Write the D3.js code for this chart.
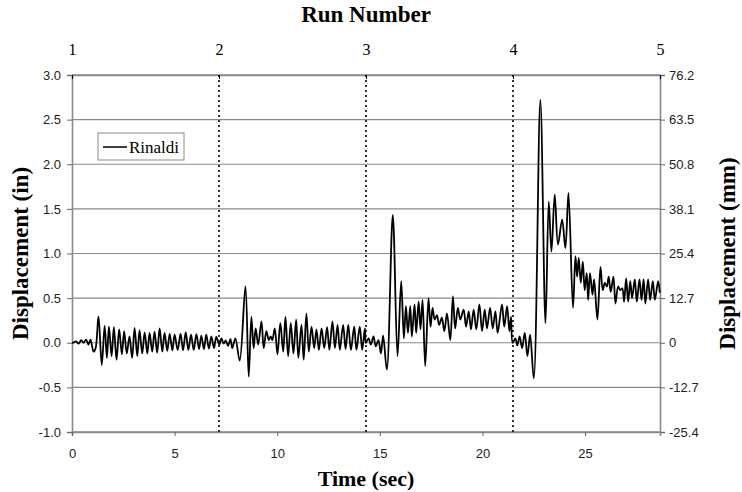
<!DOCTYPE html>
<html>
<head>
<meta charset="utf-8">
<script src="https://cdn.jsdelivr.net/npm/d3@7"></script>
<style>
	body { margin: 0; background: #fff; }
	svg { display: block; }
	.tickTxt { font-family: Arial, "Liberation Sans", sans-serif; font-size: 13px; fill: #222; }
	.title { font-family: "Times New Roman", "Liberation Serif", serif; font-weight: bold; font-size: 22px; fill: #000; }
</style>
</head>
<body>
<div id="chart"></div>
<script>
"use strict";

// displacement record, peaks and troughs (time in sec, disp in inches)
const run1Time = [0, 0.04, 0.2, 0.32, 0.45, 0.56, 0.69, 0.8, 0.9, 1.05, 1.15, 1.29, 1.45, 1.59, 1.7, 1.8, 1.93, 2.04, 2.17, 2.3, 2.43, 2.54, 2.67, 2.8, 2.93, 3.05, 3.18, 3.29, 3.42, 3.54, 3.67, 3.78, 3.91, 4.02, 4.15, 4.27, 4.4, 4.51, 4.64, 4.76, 4.89, 5.0, 5.15, 5.29, 5.41, 5.54, 5.67, 5.8, 5.93, 6.06, 6.19, 6.3, 6.43, 6.54, 6.67, 6.79, 6.92, 7.03];
const run1Disp = [0, 0, 0.015, -0.01, 0.03, 0, 0.035, -0.02, 0.035, -0.1, -0.06, 0.295, -0.25, 0.19, -0.17, 0.18, -0.15, 0.175, -0.19, 0.15, -0.13, 0.13, -0.12, 0.07, -0.17, 0.165, -0.15, 0.14, -0.12, 0.115, -0.12, 0.11, -0.1, 0.125, -0.11, 0.16, -0.1, 0.11, -0.09, 0.1, -0.085, 0.09, -0.08, 0.1, -0.085, 0.115, -0.08, 0.09, -0.08, 0.095, -0.07, 0.08, -0.07, 0.09, -0.065, 0.07, -0.06, 0.065];

const run2Time = [7.18, 7.28, 7.39, 7.49, 7.6, 7.72, 7.81, 7.96, 8.17, 8.45, 8.61, 8.74, 8.85, 8.95, 9.07, 9.23, 9.34, 9.47, 9.59, 9.68, 9.76, 9.88, 10.01, 10.15, 10.29, 10.4, 10.53, 10.66, 10.79, 10.92, 11.03, 11.18, 11.29, 11.42, 11.54, 11.67, 11.8, 11.91, 12.03, 12.16, 12.29, 12.43, 12.54, 12.69, 12.81, 12.94, 13.05, 13.21, 13.33, 13.46, 13.59, 13.75, 13.86, 14.02, 14.14, 14.27];
const run2Disp = [-0.02, 0.05, -0.01, 0.025, -0.035, 0.04, -0.06, 0.05, -0.2, 0.63, -0.38, 0.29, -0.06, 0.16, -0.02, 0.24, -0.06, 0.13, 0.03, 0.07, 0.03, 0.16, -0.13, 0.22, -0.1, 0.29, -0.15, 0.22, -0.12, 0.26, -0.17, 0.2, -0.19, 0.33, -0.1, 0.18, -0.06, 0.15, -0.08, 0.16, -0.06, 0.175, -0.08, 0.24, -0.06, 0.2, -0.08, 0.2, -0.07, 0.2, -0.08, 0.18, -0.08, 0.18, -0.08, 0.16];

const run3Time = [14.32, 14.45, 14.56, 14.69, 14.8, 14.93, 15.05, 15.16, 15.34, 15.63, 15.86, 16.04, 16.17, 16.27, 16.37, 16.48, 16.56, 16.69, 16.77, 16.89, 16.98, 17.08, 17.21, 17.37, 17.47, 17.57, 17.67, 17.78, 17.89, 18.02, 18.14, 18.27, 18.43, 18.56, 18.67, 18.8, 18.92, 19.08, 19.2, 19.33, 19.44, 19.57, 19.7, 19.85, 19.98, 20.11, 20.22, 20.37, 20.5, 20.63, 20.74, 20.95, 21.06, 21.2, 21.31, 21.39, 21.47];
const run3Disp = [0, 0.05, -0.02, 0.07, -0.04, 0.03, -0.12, 0.08, -0.3, 1.43, -0.15, 0.69, 0.05, 0.41, 0.11, 0.41, 0.07, 0.43, 0.11, 0.46, 0.15, 0.48, -0.26, 0.5, 0.18, 0.39, 0.26, 0.31, 0.2, 0.28, 0.13, 0.33, 0.03, 0.52, 0.16, 0.39, 0.26, 0.37, 0.18, 0.35, 0.15, 0.37, 0.15, 0.43, 0.13, 0.37, 0.16, 0.39, 0.16, 0.35, 0.11, 0.43, 0.18, 0.41, 0.13, 0.29, 0];

const run4Time = [21.6, 21.7, 21.81, 21.93, 22.06, 22.19, 22.32, 22.5, 22.82, 23.07, 23.23, 23.36, 23.52, 23.68, 23.88, 24.04, 24.19, 24.41, 24.53, 24.61, 24.69, 24.79, 24.89, 24.98, 25.08, 25.15, 25.24, 25.36, 25.44, 25.6, 25.75, 25.86, 25.96, 26.06, 26.15, 26.25, 26.38, 26.48, 26.61, 26.71, 26.81, 26.9, 27.0, 27.1, 27.2, 27.29, 27.42, 27.52, 27.65, 27.75, 27.85, 27.94, 28.07, 28.17, 28.3, 28.4, 28.56, 28.64];
const run4Disp = [0.05, -0.03, 0.07, -0.06, 0.11, -0.15, 0.09, -0.4, 2.72, 0.22, 1.58, 1.02, 1.66, 1.1, 1.38, 1.06, 1.68, 0.39, 0.97, 0.74, 0.95, 0.67, 0.91, 0.59, 0.78, 0.48, 0.78, 0.54, 0.71, 0.26, 0.85, 0.59, 0.67, 0.63, 0.74, 0.57, 0.74, 0.44, 0.63, 0.59, 0.61, 0.46, 0.72, 0.46, 0.69, 0.5, 0.71, 0.46, 0.71, 0.48, 0.71, 0.44, 0.71, 0.48, 0.69, 0.48, 0.69, 0.56];

// axis ticks
const timeTicks = [0, 5, 10, 15, 20, 25];
const inTicks = [-1.0, -0.5, 0.0, 0.5, 1.0, 1.5, 2.0, 2.5, 3.0];
const mmLabels = ["-25.4", "-12.7", "0", "12.7", "25.4", "38.1", "50.8", "63.5", "76.2"];
const runNumbers = [1, 2, 3, 4, 5];
const runBreaks = [2, 3, 4];
const seriesName = "Rinaldi";

const W = 742, H = 492;
const m = { left: 72, right: 82, top: 75, bottom: 60 };

const svg = d3.select("#chart").append("svg")
	.attr("width", W)
	.attr("height", H);

const x = d3.scaleLinear().domain([0, 28.65]).range([m.left, W - m.right]);
const y = d3.scaleLinear().domain([-1, 3]).range([H - m.bottom, m.top]);
const run = d3.scaleLinear().domain([1, 5]).range([m.left, W - m.right]);

// plain hyphen for negatives, like the original
const fmtIn = (d) => d3.format(".1f")(d).replace("\u2212", "-");

// join the four runs into one record
const record = [];
[[run1Time, run1Disp], [run2Time, run2Disp], [run3Time, run3Disp], [run4Time, run4Disp]]
	.forEach(([ts, ds]) => ts.forEach((t, i) => record.push({ t: t, d: ds[i] })));

// gridlines
svg.append("g")
	.selectAll("line")
	.data(inTicks)
	.enter()
	.append("line")
	.attr("x1", m.left)
	.attr("x2", W - m.right)
	.attr("y1", (d) => y(d))
	.attr("y2", (d) => y(d))
	.attr("stroke", "#8a8a8a")
	.attr("stroke-width", (d) => (d === 3 || d === -1 ? 1.6 : 1.1));

// left axis (in)
const leftAxis = svg.append("g")
	.attr("transform", `translate(${m.left},0)`)
	.call(d3.axisLeft(y).tickValues(inTicks).tickFormat(fmtIn).tickSize(5).tickPadding(6));

// right axis (mm), same positions relabelled
const rightAxis = svg.append("g")
	.attr("transform", `translate(${W - m.right},0)`)
	.call(d3.axisRight(y).tickValues(inTicks).tickFormat((d, i) => mmLabels[i]).tickSize(5).tickPadding(4));

// bottom axis (time)
const bottomAxis = svg.append("g")
	.attr("transform", `translate(0,${H - m.bottom})`)
	.call(d3.axisBottom(x).tickValues(timeTicks).tickSize(4).tickPadding(13));

// top axis (run number)
const topAxis = svg.append("g")
	.attr("transform", `translate(0,${m.top})`)
	.call(d3.axisTop(run).tickValues(runNumbers).tickFormat(d3.format("d")).tickSize(-4).tickPadding(20));

[leftAxis, rightAxis, bottomAxis, topAxis].forEach((a) => {
	a.select(".domain").attr("stroke", "#8a8a8a").attr("stroke-width", 1.6);
	a.selectAll(".tick line").attr("stroke", "#666");
	a.selectAll("text").attr("class", "tickTxt").attr("font-family", null).attr("font-size", null);
});
topAxis.selectAll(".tick line").attr("stroke", "#000");
topAxis.selectAll("text")
	.attr("class", null)
	.style("font-family", "'Times New Roman', 'Liberation Serif', serif")
	.style("font-size", "16px")
	.style("fill", "#000");

// run boundaries
svg.append("g")
	.selectAll("line")
	.data(runBreaks)
	.enter()
	.append("line")
	.attr("x1", (d) => run(d))
	.attr("x2", (d) => run(d))
	.attr("y1", m.top)
	.attr("y2", H - m.bottom)
	.attr("stroke", "#000")
	.attr("stroke-width", 1.6)
	.attr("stroke-dasharray", "2,3");

// displacement trace
const line = d3.line()
	.x((d) => x(d.t))
	.y((d) => y(d.d))
	.curve(d3.curveCatmullRom.alpha(0.5));

svg.append("path")
	.datum(record)
	.attr("d", line)
	.attr("fill", "none")
	.attr("stroke", "#000")
	.attr("stroke-width", 1.8)
	.attr("stroke-linejoin", "round");

// legend
const lg = svg.append("g").attr("transform", "translate(98,133)");
lg.append("rect")
	.attr("width", 86)
	.attr("height", 27)
	.attr("fill", "#fff")
	.attr("stroke", "#8a8a8a");
lg.append("line")
	.attr("x1", 5).attr("x2", 29)
	.attr("y1", 14).attr("y2", 14)
	.attr("stroke", "#000")
	.attr("stroke-width", 1.5);
lg.append("text")
	.attr("x", 31)
	.attr("y", 20)
	.text(seriesName)
	.style("font-family", "'Times New Roman', 'Liberation Serif', serif")
	.style("font-size", "17px");

// titles
svg.append("text")
	.attr("class", "title")
	.attr("x", run(3))
	.attr("y", 22)
	.attr("text-anchor", "middle")
	.style("font-size", "23px")
	.text("Run Number");

svg.append("text")
	.attr("class", "title")
	.attr("x", run(3))
	.attr("y", 486)
	.attr("text-anchor", "middle")
	.text("Time (sec)");

svg.append("text")
	.attr("class", "title")
	.attr("transform", `translate(28,${y(1)}) rotate(-90)`)
	.attr("text-anchor", "middle")
	.style("font-size", "23px")
	.text("Displacement (in)");

svg.append("text")
	.attr("class", "title")
	.attr("transform", `translate(735,${y(1)}) rotate(-90)`)
	.attr("text-anchor", "middle")
	.style("font-size", "23px")
	.text("Displacement (mm)");
</script>
</body>
</html>
